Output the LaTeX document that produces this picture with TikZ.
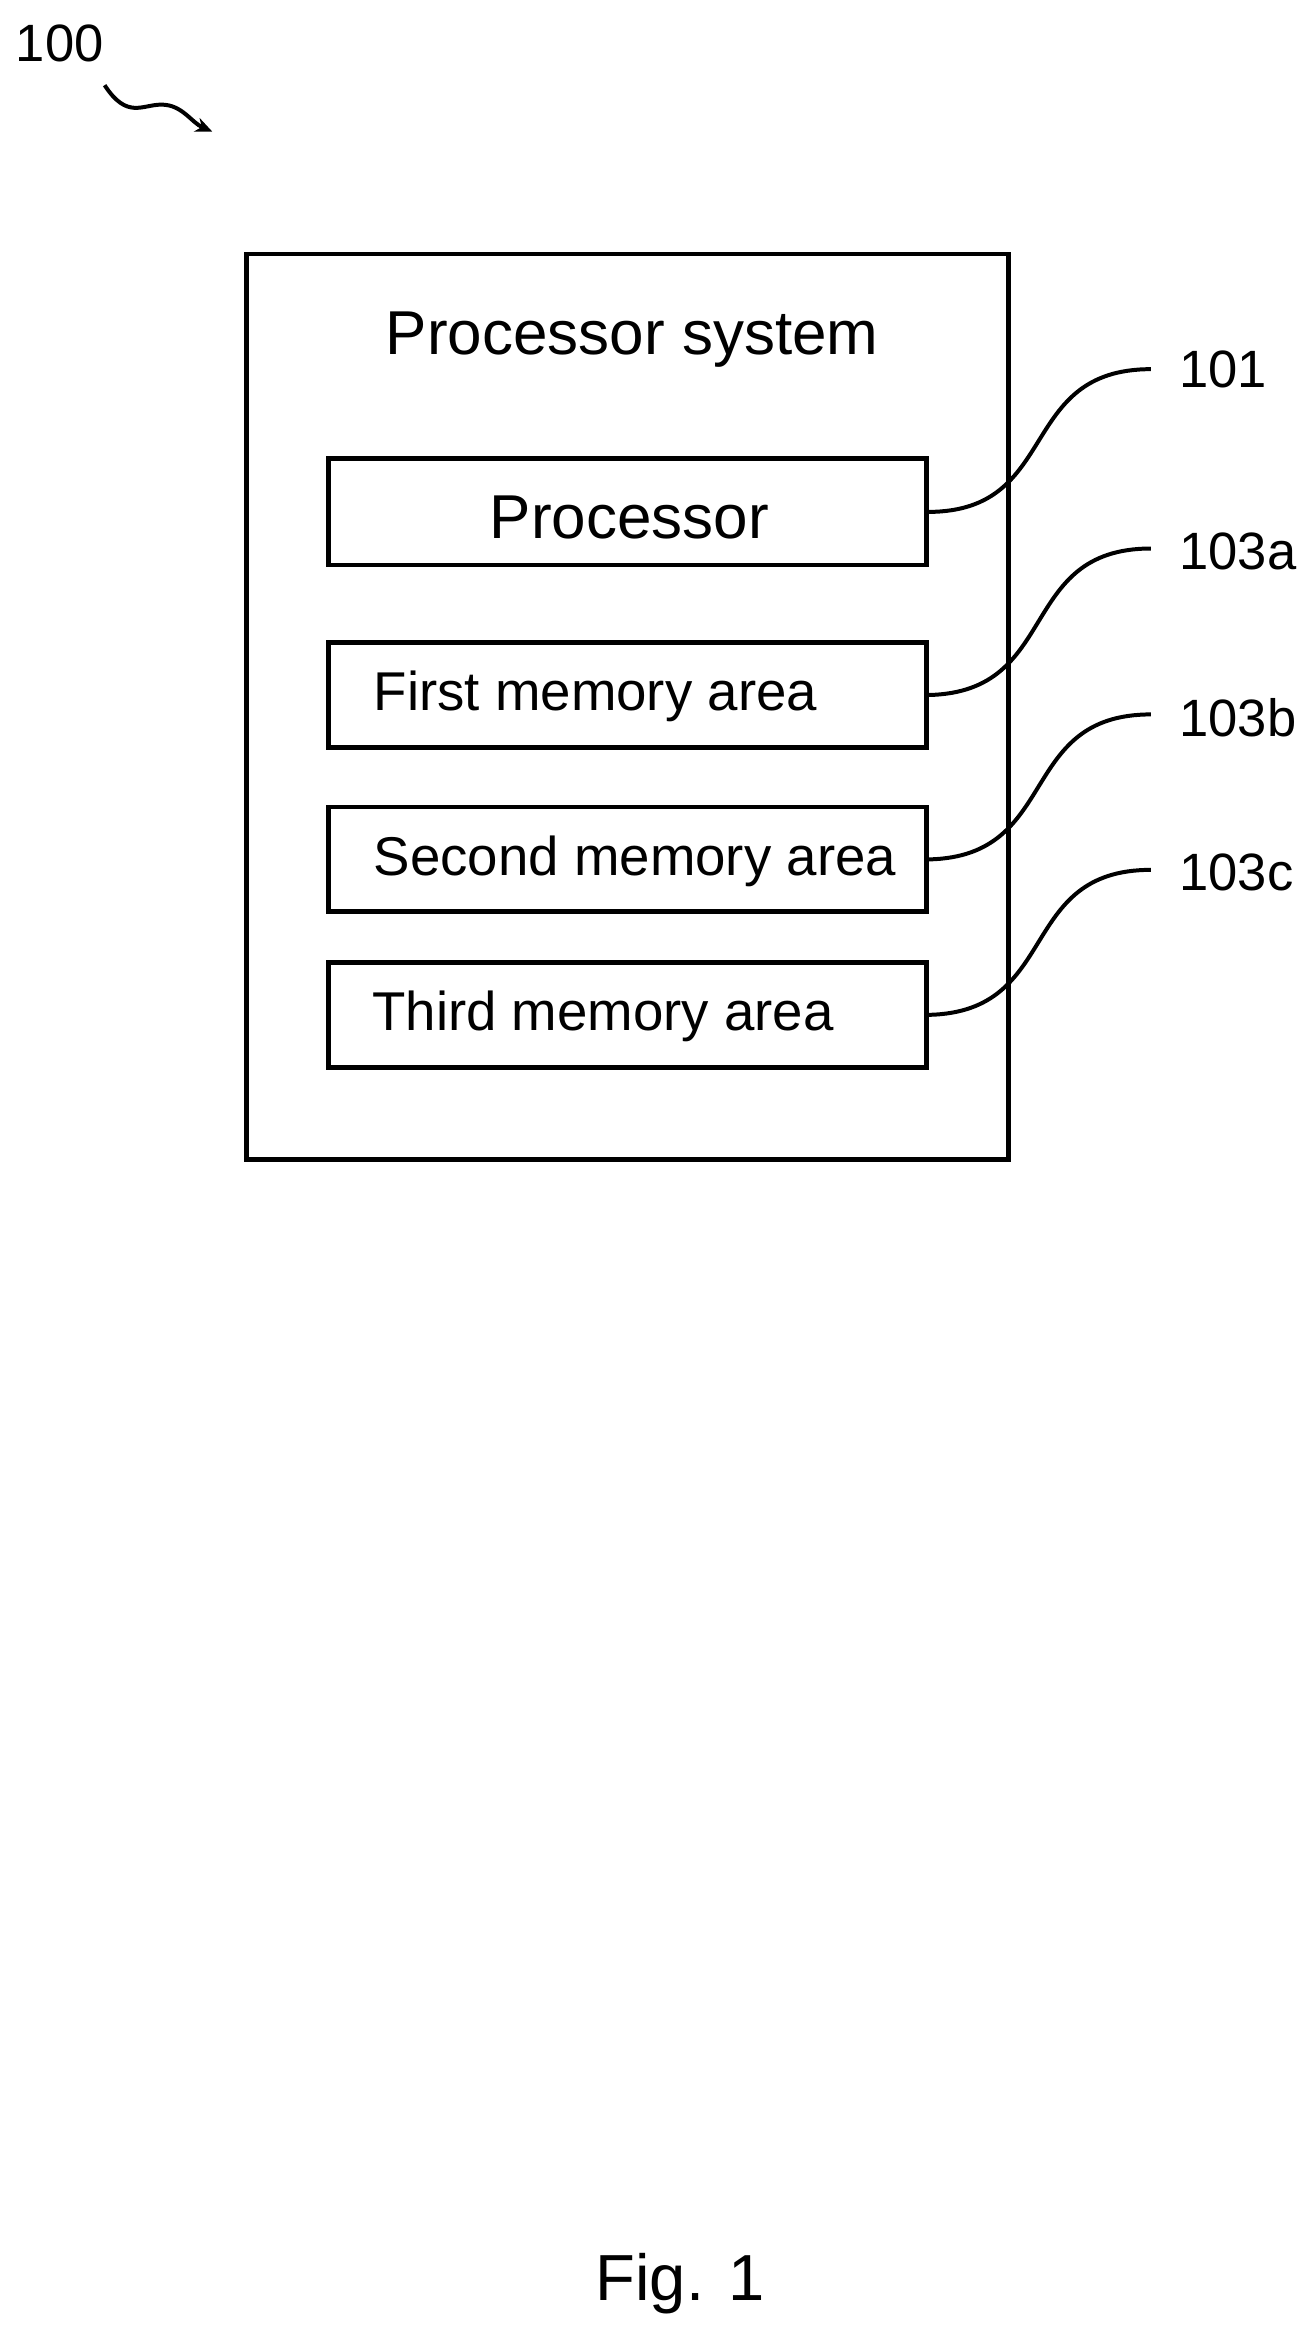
\documentclass[tikz,border=0pt]{standalone}
\usepackage{fontspec}
\setmainfont{Liberation Sans}
\usetikzlibrary{arrows.meta,decorations.pathmorphing}
\begin{document}
\begin{tikzpicture}[x=0.05cm,y=-0.05cm,
  box/.style={draw,line width=4.5pt,inner sep=0pt},
  lead/.style={line width=3.8pt},
  lbl/.style={font=\fontsize{50}{54}\selectfont,inner sep=0pt},
  mem/.style={font=\fontsize{52}{56}\selectfont,inner sep=0pt,anchor=west}]
\useasboundingbox (0,0) rectangle (880,1571);
\fill[white] (0,0) rectangle (880,1571);
\draw[box] (165,170) rectangle (675,776);
\node[font=\fontsize{59}{64}\selectfont] (title) at (423,227) {Processor system};
\node[box,minimum width=400*0.05cm,minimum height=71*0.05cm] (p) at (420,342.5) {};
\node[font=\fontsize{59}{64}\selectfont] (pt) at (421,346) {Processor};
\node[box,minimum width=400*0.05cm,minimum height=70*0.05cm] (m1) at (420,465) {};
\node[mem] (t1) at (250,466) {First memory area};
\node[box,minimum width=400*0.05cm,minimum height=70*0.05cm] (m2) at (420,575) {};
\node[mem] (t2) at (250,576) {Second memory area};
\node[box,minimum width=400*0.05cm,minimum height=70*0.05cm] (m3) at (420,679) {};
\node[mem] (t3) at (249,680) {Third memory area};
\node[lbl,anchor=west] (l1) at (789,247) {101};
\node[lbl,anchor=west] (l2) at (789,369) {103a};
\node[lbl,anchor=west] (l3) at (789,480) {103b};
\node[lbl,anchor=west] (l4) at (789,584) {103c};
\draw[lead] (p.east) .. controls (710,342) and (680,247) .. (770,247);
\draw[lead] (m1.east) .. controls (710,463) and (680,367) .. (770,367);
\draw[lead] (m2.east) .. controls (710,573) and (680,478) .. (770,478);
\draw[lead] (m3.east) .. controls (710,677) and (680,582) .. (770,582);
\node[lbl] (l100) at (40,29) {100};
\coordinate (s0) at (70,57);
\coordinate (s1) at (142,88);
\draw[lead,-{Stealth[length=16pt,width=14pt]}] (s0) .. controls (85,80) and (95,70) .. (108,70) .. controls (122,70) and (128,82) .. (s1);
\node[font=\fontsize{62}{66}\selectfont] (fig) at (455,1528) {Fig. 1};
\end{tikzpicture}
\end{document}
